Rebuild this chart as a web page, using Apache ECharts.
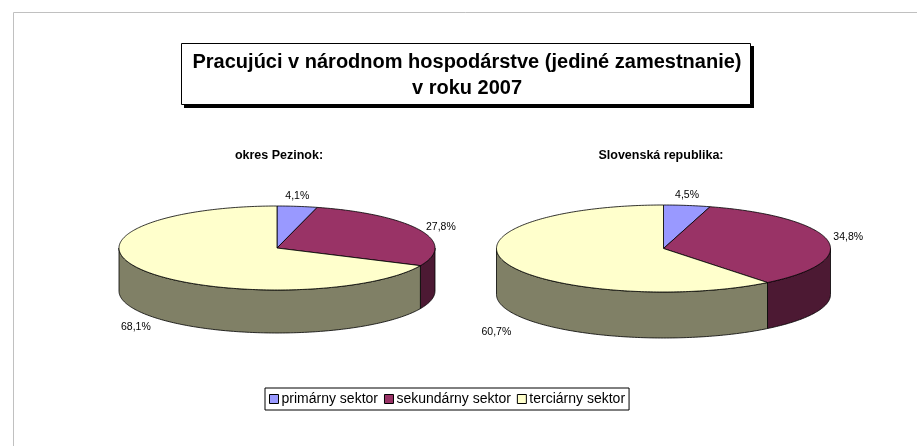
<!DOCTYPE html>
<html>
<head>
<meta charset="utf-8">
<script src="https://cdn.jsdelivr.net/npm/echarts@6/dist/echarts.min.js"></script>
<style>
html,body{margin:0;padding:0;background:#fff;}
#chart{width:917px;height:446px;}
</style>
</head>
<body>
<div id="chart"></div>
<script>
// ---- data ----
const categories = ['primárny sektor', 'sekundárny sektor', 'terciárny sektor'];
const pezinokValues = [4.1, 27.8, 68.1];
const slovakiaValues = [4.5, 34.8, 60.7];
const pieTitles = ['okres Pezinok:', 'Slovenská republika:'];
const mainTitle = 'Pracujúci v národnom hospodárstve (jediné zamestnanie)\nv roku 2007';

// ---- styles ----
const topColors = ['#9999FF', '#993366', '#FFFFCC'];
const sideColors = ['#4C4C80', '#4C1933', '#808066'];
const FONT = '"Liberation Sans", Arial, sans-serif';

const pies = [
  { values: pezinokValues, cx: 277, cy: 248, rx: 158, ry: 42, t: 43 },
  { values: slovakiaValues, cx: 663.5, cy: 248.5, rx: 167, ry: 43.5, t: 46 }
];

function fmt(v) { return v.toFixed(1).replace('.', ',') + '%'; }
function pt(g, deg, dy) {
  const r = deg * Math.PI / 180;
  return [g.cx + g.rx * Math.sin(r), g.cy - g.ry * Math.cos(r) + (dy || 0)];
}
function sliceAngles(values, i) {
  const total = values.reduce((a, b) => a + b, 0);
  let s = 0;
  for (let k = 0; k < i; k++) s += values[k];
  return [s / total * 360, (s + values[i]) / total * 360];
}

function sideRender(g) {
  return function (params, api) {
    const i = params.dataIndex;
    const [a0, a1] = sliceAngles(g.values, i);
    const lo = Math.max(a0, 90), hi = Math.min(a1, 270);
    if (hi <= lo) return null;
    const pts = [];
    for (let a = lo; a < hi; a += 1) pts.push(pt(g, a));
    pts.push(pt(g, hi));
    for (let a = hi; a > lo; a -= 1) pts.push(pt(g, a, g.t));
    pts.push(pt(g, lo, g.t));
    return {
      type: 'polygon',
      shape: { points: pts },
      style: { fill: sideColors[i], stroke: '#000', lineWidth: 0.8 }
    };
  };
}

function topRender(g) {
  return function (params, api) {
    const i = params.dataIndex;
    const [a0, a1] = sliceAngles(g.values, i);
    const pts = [[g.cx, g.cy]];
    for (let a = a0; a < a1; a += 1) pts.push(pt(g, a));
    pts.push(pt(g, a1));
    const mid = (a0 + a1) / 2;
    const r = mid * Math.PI / 180;
    const s = Math.sin(r), c = Math.cos(r);
    let lx, ly, align, valign;
    if (c >= 0) {
      const p = pt(g, mid);
      if (Math.abs(s) < 0.3) {
        lx = p[0]; ly = p[1] - 5; align = 'center'; valign = 'bottom';
      } else {
        lx = p[0] + (s > 0 ? 6 : -6); ly = p[1] - 3; align = s > 0 ? 'left' : 'right'; valign = 'middle';
      }
    } else {
      lx = g.cx + 1.06 * g.rx * s; ly = g.cy + g.ry + g.t - 6; align = 'center'; valign = 'middle';
    }
    return {
      type: 'group',
      children: [
        {
          type: 'polygon',
          shape: { points: pts },
          style: { fill: topColors[i], stroke: '#000', lineWidth: 0.8 }
        },
        {
          type: 'text',
          x: lx, y: ly,
          style: {
            text: fmt(api.value(0)), fill: '#000', font: '10.5px ' + FONT,
            textAlign: align, textVerticalAlign: valign
          }
        }
      ]
    };
  };
}

const series = [];
pies.forEach((g, k) => {
  series.push({
    type: 'custom', name: 'side' + k, coordinateSystem: 'none', z: 1,
    silent: true, animation: false,
    data: g.values, renderItem: sideRender(g)
  });
  series.push({
    type: 'custom', name: 'top' + k, coordinateSystem: 'none', z: 2,
    silent: true, animation: false,
    data: g.values, renderItem: topRender(g)
  });
});
categories.forEach((name, i) => {
  series.push({
    type: 'custom', name: name, coordinateSystem: 'none',
    itemStyle: { color: topColors[i] },
    data: [], renderItem: () => null
  });
});

const chart = echarts.init(document.getElementById('chart'), null, { renderer: 'canvas' });
chart.setOption({
  animation: false,
  backgroundColor: '#fff',
  graphic: [
    { type: 'rect', z: 0, shape: { x: 13.5, y: 12.5, width: 1000, height: 1000 },
      style: { fill: 'none', stroke: '#C0C0C0', lineWidth: 1 } },
    { type: 'rect', z: 4, shape: { x: 184, y: 46, width: 570, height: 62 },
      style: { fill: '#000' } },
    { type: 'rect', z: 5, shape: { x: 181.5, y: 43.5, width: 569, height: 61 },
      style: { fill: '#fff', stroke: '#000', lineWidth: 1 } },
    { type: 'text', z: 6, x: 467, y: 75,
      style: { text: mainTitle, font: 'bold 20px ' + FONT, fill: '#000',
        textAlign: 'center', textVerticalAlign: 'middle', lineHeight: 26 } },
    { type: 'text', z: 6, x: 279, y: 156,
      style: { text: pieTitles[0], font: 'bold 12.5px ' + FONT, fill: '#000',
        textAlign: 'center', textVerticalAlign: 'middle' } },
    { type: 'text', z: 6, x: 661, y: 156,
      style: { text: pieTitles[1], font: 'bold 12.5px ' + FONT, fill: '#000',
        textAlign: 'center', textVerticalAlign: 'middle' } }
  ],
  legend: {
    data: categories,
    left: 265, top: 388,
    orient: 'horizontal',
    icon: 'rect',
    itemWidth: 9, itemHeight: 9, itemGap: 6,
    padding: [4, 4, 4, 4],
    borderColor: '#000', borderWidth: 1,
    backgroundColor: '#fff',
    itemStyle: { borderColor: '#000', borderWidth: 1 },
    textStyle: { fontFamily: FONT, fontSize: 14, color: '#000', padding: [0, 0, 0, -2] },
    selectedMode: false
  },
  series: series
});
</script>
</body>
</html>
